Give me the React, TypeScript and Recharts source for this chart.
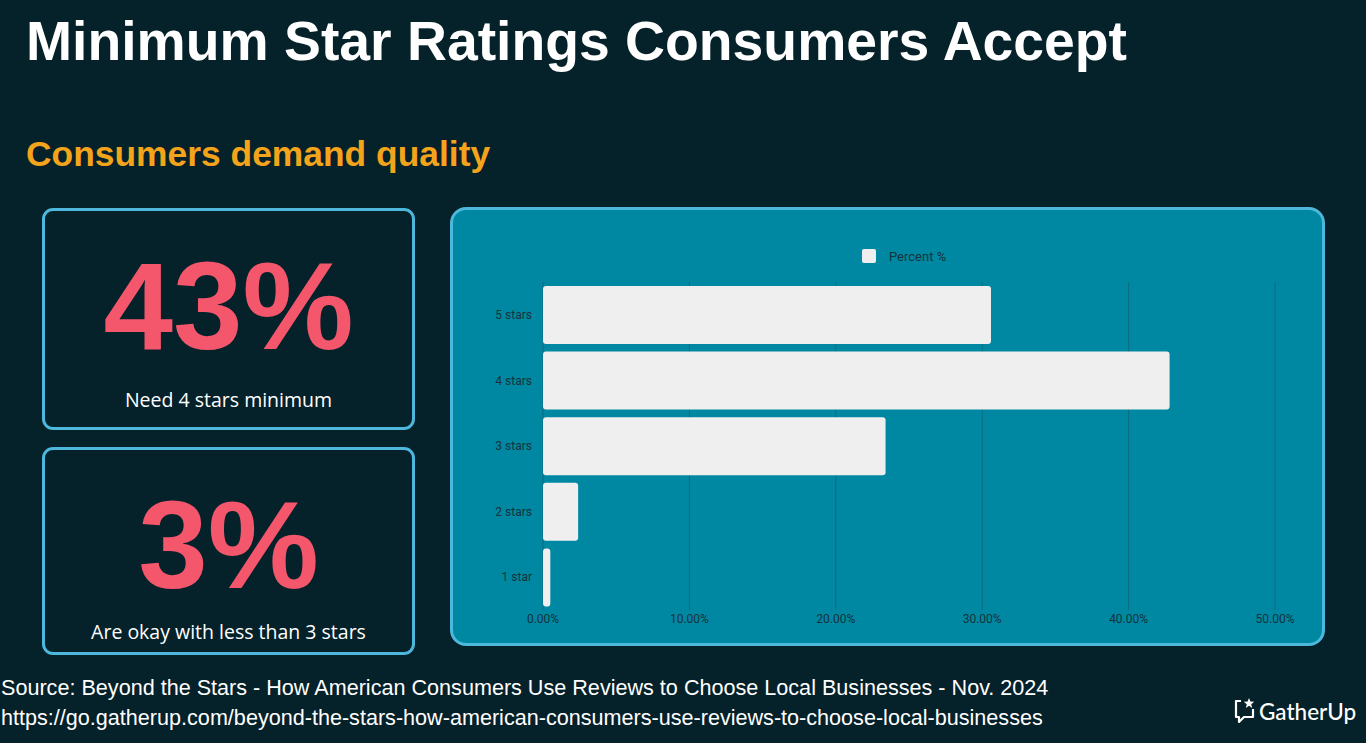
import React from "react";
import { Bar, BarChart, CartesianGrid, Legend, XAxis, YAxis } from "recharts";

const categories = ["5 stars", "4 stars", "3 stars", "2 stars", "1 star"];
const percentValues = [30.6, 42.8, 23.4, 2.4, 0.5];
const xTicks = [0, 10, 20, 30, 40, 50];

const data = categories.map((name, i) => ({ name, pct: percentValues[i] }));

const BG = "#05212a";
const PANEL = "#0088a2";
const BORDER = "#4db8dc";
const INK = "#16323b";
const PINK = "#f4566c";

function LegendContent() {
  return (
    <div style={{ display: "flex", alignItems: "center", marginLeft: 409, height: 14 }}>
      <div style={{ width: 14, height: 14, background: "#efefef", borderRadius: 2 }} />
      <span style={{ marginLeft: 13, fontFamily: "Roboto, sans-serif", fontSize: 13, color: INK }}>Percent %</span>
    </div>
  );
}

function StatBox({ top, height, value, label, labelBottom }: { top: number; height: number; value: string; label: string; labelBottom: number }) {
  return (
    <div
      style={{
        position: "absolute", left: 42, top, width: 373, height, boxSizing: "border-box",
        border: `3px solid ${BORDER}`, borderRadius: 11, color: "#fff", textAlign: "center",
      }}
    >
      <div style={{ position: "absolute", left: 0, right: 0, top: 40, fontFamily: "'Liberation Sans', Arial, sans-serif", fontWeight: 700, fontSize: 125, lineHeight: "110px", color: PINK }}>
        {value}
      </div>
      <div style={{ position: "absolute", left: 0, right: 0, bottom: labelBottom, fontFamily: "'Open Sans', sans-serif", fontSize: 19.5, lineHeight: "26px" }}>
        {label}
      </div>
    </div>
  );
}

export default function App() {
  return (
    <div style={{ position: "absolute", left: 0, top: 0, width: 1366, height: 743, background: BG, overflow: "hidden" }}>
      <div style={{ position: "absolute", left: 26, top: 8, fontFamily: "'Liberation Sans', Arial, sans-serif", fontWeight: 700, fontSize: 55.3, lineHeight: "66px", color: "#fff" }}>
        Minimum Star Ratings Consumers Accept
      </div>
      <div style={{ position: "absolute", left: 26, top: 133, fontFamily: "'Liberation Sans', Arial, sans-serif", fontWeight: 700, fontSize: 35.4, lineHeight: "42px", color: "#f4a41b" }}>
        Consumers demand quality
      </div>

      <StatBox top={208} height={222} value="43%" label="Need 4 stars minimum" labelBottom={14} />
      <StatBox top={447} height={208} value="3%" label="Are okay with less than 3 stars" labelBottom={7} />

      <div
        style={{
          position: "absolute", left: 450, top: 207, width: 875, height: 439, boxSizing: "border-box",
          border: `3px solid ${BORDER}`, borderRadius: 16, background: PANEL,
        }}
      >
        <BarChart width={869} height={433} data={data} layout="vertical" margin={{ top: 72, right: 47, bottom: 0, left: 0 }}>
          <CartesianGrid horizontal={false} stroke="#0a6b80" strokeWidth={1} />
          <XAxis
            type="number"
            domain={[0, 50]}
            ticks={xTicks}
            tickFormatter={(v: number) => `${v.toFixed(2)}%`}
            axisLine={false}
            tickLine={false}
            tickSize={0}
            tickMargin={4}
            height={33}
            tick={{ fill: INK, fontSize: 12, fontFamily: "Roboto, sans-serif" }}
          />
          <YAxis
            type="category"
            dataKey="name"
            width={90}
            axisLine={false}
            tickLine={false}
            tickSize={0}
            tickMargin={11}
            tick={{ fill: INK, fontSize: 12, fontFamily: "Roboto, sans-serif" }}
          />
          <Legend verticalAlign="middle" align="center" content={LegendContent} wrapperStyle={{ top: 39, left: 0, width: 869 }} />
          <Bar dataKey="pct" name="Percent %" fill="#efefef" barSize={58} radius={3} isAnimationActive={false} />
        </BarChart>
      </div>

      <div style={{ position: "absolute", left: 1, top: 673, fontFamily: "'Liberation Sans', Arial, sans-serif", fontSize: 21.6, lineHeight: "30px", color: "#fff", whiteSpace: "nowrap" }}>
        Source: Beyond the Stars - How American Consumers Use Reviews to Choose Local Businesses - Nov. 2024
        <br />
        https://go.gatherup.com/beyond-the-stars-how-american-consumers-use-reviews-to-choose-local-businesses
      </div>

      <div style={{ position: "absolute", left: 1233, top: 697, display: "flex", alignItems: "center", color: "#fff" }}>
        <svg width={24} height={28} viewBox="0 0 24 28">
          <path d="M8 4 H3 V20 H6 V25 L11 20 H20 V12" fill="none" stroke="#fff" strokeWidth={2.2} strokeLinejoin="round" />
          <path d="M16 1 L17.4 4.6 L21.2 4.8 L18.2 7.2 L19.2 11 L16 8.8 L12.8 11 L13.8 7.2 L10.8 4.8 L14.6 4.6 Z" fill="#fff" />
        </svg>
        <span style={{ marginLeft: 2, fontFamily: "Lato, sans-serif", fontSize: 22.5, fontWeight: 500 }}>GatherUp</span>
      </div>
    </div>
  );
}
